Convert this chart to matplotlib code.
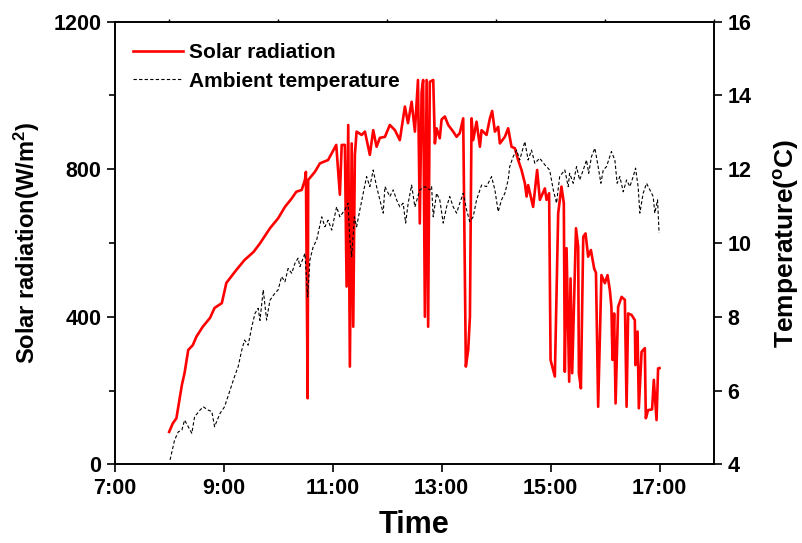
import matplotlib
matplotlib.use('Agg')
import matplotlib.pyplot as plt
import numpy as np

plt.rcParams['font.family'] = 'Liberation Sans'
plt.rcParams['font.weight'] = 'bold'
plt.rcParams['mathtext.fontset'] = 'custom'
plt.rcParams['mathtext.rm'] = 'Liberation Sans:bold'
plt.rcParams['mathtext.bf'] = 'Liberation Sans:bold'
plt.rcParams['mathtext.default'] = 'bf'

# solar radiation, minutes after 7:00 and W/m2
sol_min = [60, 64, 68, 74, 77, 81, 86, 90, 97, 105, 110, 118, 123, 134, 143, 153, 160, 171, 180, 187.5,
           195, 200, 206, 209.5, 210.6, 212.5, 213.1, 220.5, 226, 235, 241, 244, 248, 250, 253.5, 255.4,
           257.2, 259, 261, 262.7, 264.5, 266.4, 272, 275.6, 281, 284.7, 288.4, 292, 297.6, 303, 308.6,
           314, 319.6, 323, 327, 330.6, 334, 336, 338, 339.7, 341.6, 343.5, 345.2, 347, 350.8, 352.6,
           354.5, 358, 360, 363.6, 367.3, 372.8, 376.5, 380, 383.8, 386.7, 389.3, 391.2, 393, 394.8,
           398.5, 402.2, 404, 409.5, 413.2, 415.7, 418.7, 422.3, 424.2, 429.7, 433.3, 437, 440.7, 444.3,
           448, 451.7, 453.6, 455.3, 460.8, 465.2, 468.2, 473.7, 475.6, 478.4, 480, 484.7, 488.4, 492,
           494.6, 495.7, 497.6, 500.5, 502, 503.8, 508, 510.4, 511.2, 513.4, 516, 518.5, 521.4, 524.4,
           528, 530, 532.4, 536, 539.8, 542.7, 545.3, 547, 548.2, 550, 551.6, 554.4, 558.2, 561.8,
           563.7, 565.4, 569.2, 572.8, 573.4, 575.8, 577.2, 580.2, 583.8, 584.9, 587.4, 591.8, 593.7,
           596.7, 598.4, 600]
sol_val = [88, 111, 125, 215, 248, 310, 323, 346, 373, 397, 424, 437, 492, 527, 554, 576, 599, 640, 667, 698,
           721, 739, 744, 771, 793, 179, 771, 793, 816, 825, 852, 866, 731, 866, 866, 482,
           920, 265, 870, 373, 839, 902, 893, 902, 839, 906, 861, 885, 888, 920, 906,
           879, 970, 925, 983, 902, 1042, 653, 1010, 1042, 400, 1042, 373, 1037, 1042, 870,
           911, 884, 935, 943, 920, 902, 888, 898, 938, 265, 310, 400, 938, 879,
           929, 861, 906, 893, 938, 958, 902, 915, 870, 888, 911, 861, 857, 825,
           798, 762, 726, 757, 698, 798, 717, 748, 717, 735, 283, 238, 681, 753,
           708, 251, 586, 224, 504, 247, 640, 590, 247, 206, 617, 626, 563, 581,
           531, 519, 156, 513, 491, 513, 472, 427, 283, 409, 165, 427, 454, 446,
           156, 409, 405, 391, 269, 360, 152, 305, 315, 125, 147, 149, 229,
           120, 260, 261]

# ambient temperature, minutes after 7:00 and deg C
tmp_min = [61, 66, 70, 74, 77, 81, 85, 88, 94, 97.5, 103, 107, 110, 116, 121, 127, 132, 136, 140, 143,
           147, 151, 154.5, 158, 160, 163.6, 167.3, 171, 176.5, 180, 183.8, 187.5, 191, 195, 198.5, 202,
           204, 209.5, 212.5, 215, 218.6, 222.4, 228, 231.5, 235, 239, 244.4, 248, 253.5, 257, 259, 261,
           264, 266.4, 270, 273.7, 277.4, 281, 284.7, 288.4, 292, 295.7, 297.6, 303, 306.7, 310.5, 314,
           317.7, 320.4, 323.2, 327, 330.6, 336, 341.6, 347, 349, 350.8, 354.5, 358, 361.8, 365.5, 369,
           372.8, 376.5, 380, 383.8, 387.5, 391, 394.8, 398.5, 404, 409.5, 415, 418.7, 422.3, 426, 429.7,
           433.3, 435, 438.8, 442.6, 446, 451.7, 455.3, 459, 462.7, 468, 473.7, 479, 483, 486.6, 490,
           495.7, 499.4, 501, 505, 508.6, 512, 516, 519.6, 522, 525, 528.8, 532.4, 535.4, 538, 541.6,
           547, 550.8, 553.3, 556.3, 560, 563.7, 567.3, 571, 573.6, 576.4, 578.3, 582, 585.7, 589.3,
           593, 594.8, 597.8, 599.5]
tmp_val = [4.12, 4.66, 4.88, 4.93, 5.20, 5.02, 4.84, 5.29, 5.47, 5.56, 5.47, 5.43, 5.02, 5.38, 5.56, 6.01,
           6.38, 6.65, 7.10, 7.37, 7.23, 7.73, 8.09, 8.23, 7.90, 8.73, 7.91, 8.45, 8.64, 8.73, 9.09, 8.95,
           9.31, 9.18, 9.45, 9.59, 9.36, 9.72, 8.54, 9.54, 9.90, 10.08, 10.71, 10.44, 10.62, 10.35, 10.98,
           10.71, 10.90, 11.08, 10.08, 9.63, 10.71, 10.44, 10.90, 11.35, 11.80, 11.53, 11.98, 11.53, 11.17,
           10.81, 11.53, 11.26, 11.44, 11.17, 10.98, 11.08, 10.54, 11.08, 11.57, 10.98, 11.44, 11.53, 11.44,
           11.53, 10.71, 11.35, 11.17, 10.54, 10.98, 11.26, 10.98, 10.81, 11.08, 11.35, 10.90, 10.58, 10.71,
           11.17, 11.57, 11.53, 11.80, 11.44, 10.85, 11.17, 11.35, 11.71, 12.07, 12.34, 12.52, 12.25, 12.75,
           12.25, 12.52, 12.16, 12.30, 12.12, 11.98, 11.44, 11.08, 11.80, 11.98, 11.53, 11.89, 11.62, 12.07,
           11.71, 11.98, 12.25, 11.89, 12.34, 12.57, 12.07, 11.62, 11.98, 12.07, 12.48, 12.25, 11.62, 11.80,
           11.39, 11.71, 11.53, 11.80, 12.03, 11.53, 10.81, 11.35, 11.62, 11.44, 11.26, 10.81, 11.17, 10.27]

x_ticks = [7, 9, 11, 13, 15, 17]
x_labels = ['7:00', '9:00', '11:00', '13:00', '15:00', '17:00']

sol_t = 7 + np.array(sol_min) / 60.0
tmp_t = 7 + np.array(tmp_min) / 60.0

fig = plt.figure(figsize=(8.03, 5.43), dpi=100)
ax = fig.add_axes([0.1428, 0.1449, 0.7464, 0.8151])
ax2 = ax.twinx()

l1, = ax.plot(sol_t, sol_val, color='#ff0000', lw=1.9, label='Solar radiation')
l2, = ax2.plot(tmp_t, tmp_val, color='black', lw=0.8, ls=(0, (3, 2)), label='Ambient temperature')

ax.set_xlim(7, 18)
ax.set_ylim(0, 1200)
ax2.set_ylim(4, 16)

ax.set_xticks(x_ticks)
ax.set_xticklabels(x_labels)
ax.set_yticks([0, 400, 800, 1200])
ax.set_yticks([200, 600, 1000], minor=True)
ax.set_xticks(np.arange(7, 19, 1), minor=True)
ax2.set_yticks([4, 6, 8, 10, 12, 14, 16])

for a in (ax, ax2):
    for s in a.spines.values():
        s.set_linewidth(1.2)

ax.tick_params(axis='both', which='major', direction='out', length=6, width=1.2, labelsize=15.5)
ax.tick_params(axis='y', which='minor', direction='out', length=4, width=1.2)
ax.tick_params(axis='x', which='minor', bottom=False, top=True, direction='out', length=2, width=1)
ax2.tick_params(axis='y', which='major', direction='out', length=6, width=1.2, labelsize=15.5)

ax.set_xlabel('Time', fontsize=22, fontweight='bold', labelpad=8)
ax.set_ylabel(r'Solar radiation(W/m$^2$)', fontsize=17, fontweight='bold')
ax2.set_ylabel(r'Temperature($^o$C)', fontsize=19, fontweight='bold')
ax.yaxis.set_label_coords(-0.122, 0.5)
ax2.yaxis.set_label_coords(1.097, 0.5)

ax.legend(handles=[l1, l2], loc='upper left', frameon=False,
          handlelength=2.4, handletextpad=0.3, labelspacing=0.45, borderaxespad=0.0,
          bbox_to_anchor=(0.017, 0.97), prop={'weight': 'bold', 'size': 15})

fig.savefig('out.png', dpi=100)
